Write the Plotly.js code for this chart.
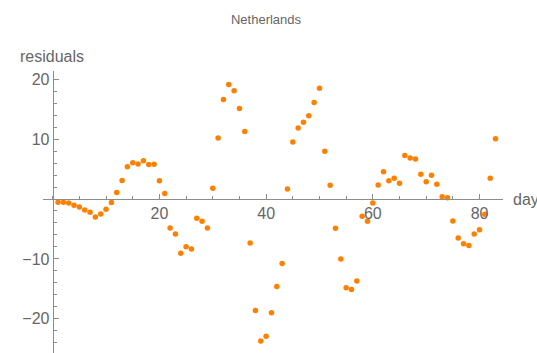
<!DOCTYPE html>
<html>
<head>
<meta charset="utf-8">
<script src="https://cdn.plot.ly/plotly-3.0.1.min.js"></script>
<style>html,body{margin:0;padding:0;background:#fff;}#chart{width:537px;height:353px;}</style>
</head>
<body>
<div id="chart"></div>
<script>
// Data (day -> residual)
const days = [1,2,3,4,5,6,7,8,9,10,11,12,13,14,15,16,17,18,19,20,
  21,22,23,24,25,26,27,28,29,30,31,32,33,34,35,36,37,38,39,40,
  41,42,43,44,45,46,47,48,49,50,51,52,53,54,55,56,57,58,59,60,
  61,62,63,64,65,66,67,68,69,70,71,72,73,74,75,76,77,78,79,80,
  81,82,83];
const residuals = [-0.55,-0.55,-0.67,-1.06,-1.34,-1.84,-2.2,-3.0,-2.5,-1.73,
  -0.6,1.1,3.1,5.4,6.07,5.85,6.4,5.74,5.8,3.06,
  0.9,-4.85,-5.85,-9.05,-7.97,-8.36,-3.2,-3.7,-4.85,1.78,
  10.2,16.6,19.1,18.06,15.1,11.26,-7.36,-18.6,-23.7,-22.9,
  -19.0,-14.6,-10.76,1.67,9.53,11.87,12.8,13.9,16.1,18.5,
  7.97,2.3,-4.9,-10.03,-14.8,-15.1,-13.7,-2.9,-3.73,-0.67,
  2.32,4.57,3.03,3.45,2.62,7.25,6.86,6.69,4.12,2.9,
  3.95,2.45,0.39,0.22,-3.68,-6.52,-7.47,-7.75,-5.85,-5.13,
  -2.56,3.45,10.05];
const xTickVals = [20,40,60,80];
const yTickVals = [-20,-10,10,20];
const titleText = "Netherlands";
const xLabel = "days";
const yLabel = "residuals";

const textCol = "#666666";
const lineCol = "#8c8c8c";
const font = {family: "Liberation Sans, Arial, sans-serif", size: 16, color: textCol};

const xr = [-1.82, 84.4];
const yr = [-25.71, 21.37];
const xPos = (0 - yr[0]) / (yr[1] - yr[0]);
const yPos = (0 - xr[0]) / (xr[1] - xr[0]);

Plotly.newPlot("chart", [{
  x: days, y: residuals, type: "scatter", mode: "markers",
  marker: {color: "#FF8000", size: 5.5, line: {width: 0}},
  cliponaxis: false, hoverinfo: "skip"
}], {
  width: 537, height: 353,
  margin: {l: 43, r: 34, t: 71, b: 0, pad: 0},
  paper_bgcolor: "#ffffff", plot_bgcolor: "#ffffff",
  showlegend: false,
  font: font,
  title: {text: titleText, font: {family: font.family, size: 13, color: textCol},
    xref: "container", yref: "container", x: 266/537, y: 1 - 19/353,
    xanchor: "center", yanchor: "middle"},
  xaxis: {
    range: xr, anchor: "free", position: xPos,
    showgrid: false, zeroline: false, showline: true, linecolor: lineCol, linewidth: 1,
    tickmode: "array", tickvals: xTickVals, ticktext: xTickVals.map(String),
    ticks: "inside", ticklen: 5, tickcolor: lineCol, tickwidth: 1,
    minor: {tick0: 0, dtick: 5, ticks: "inside", ticklen: 3, tickcolor: lineCol, showgrid: false},
    tickfont: font
  },
  yaxis: {
    range: yr, anchor: "free", position: yPos,
    showgrid: false, zeroline: false, showline: true, linecolor: lineCol, linewidth: 1,
    tickmode: "array", tickvals: yTickVals, ticktext: yTickVals.map(v => v < 0 ? "\u2212" + Math.abs(v) : String(v)),
    ticks: "inside", ticklen: 5, tickcolor: lineCol, tickwidth: 1,
    minor: {tick0: 0, dtick: 2, ticks: "inside", ticklen: 3, tickcolor: lineCol, showgrid: false},
    tickfont: font
  },
  annotations: [
    {text: yLabel, xref: "paper", yref: "paper", x: (18 - 43) / 460, y: (353 - 56) / 282,
     xanchor: "left", yanchor: "middle", showarrow: false, font: font},
    {text: xLabel, xref: "paper", yref: "y", x: (511 - 43) / 460, y: 0,
     xanchor: "left", yanchor: "middle", showarrow: false, font: font}
  ]
}, {staticPlot: true, displayModeBar: false});
</script>
</body>
</html>
